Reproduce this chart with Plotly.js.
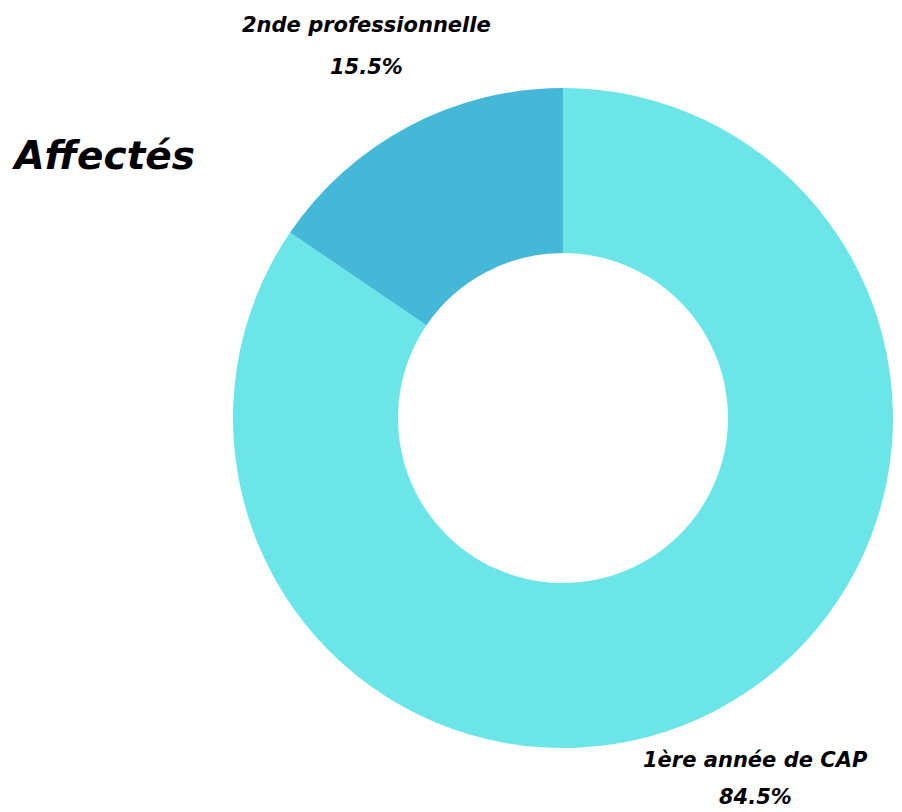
<!DOCTYPE html>
<html>
<head>
<meta charset="utf-8">
<script src="https://cdn.plot.ly/plotly-3.0.1.min.js"></script>
<style>html,body{margin:0;padding:0;background:#fff;}#chart{width:902px;height:812px;}</style>
</head>
<body>
<div id="chart"></div>
<script>
const labels = ["1ère année de CAP", "2nde professionnelle"];
const values = [84.5, 15.5];
const colors = ["#6BE5E8", "#44B8D6"];
const chartTitle = "Affectés";

// label placement (layout only), in pixels of the 902x812 canvas
const W = 902, H = 812;
const labelPos = [{x: 755, y1: 760, y2: 797}, {x: 366, y1: 25, y2: 67}];
const labelFont = {family: "DejaVu Sans, sans-serif", size: 21, color: "#000", weight: "bold", style: "italic"};

const total = values.reduce((a, b) => a + b, 0);
const annotations = [];
labels.forEach((lab, i) => {
  const p = labelPos[i];
  annotations.push({text: lab, x: p.x / W, y: 1 - p.y1 / H, xref: "paper", yref: "paper",
    xanchor: "center", yanchor: "middle", showarrow: false, font: labelFont});
  annotations.push({text: (values[i] / total * 100).toFixed(1) + "%", x: p.x / W, y: 1 - p.y2 / H,
    xref: "paper", yref: "paper", xanchor: "center", yanchor: "middle", showarrow: false, font: labelFont});
});

const trace = {
  type: "pie",
  labels: labels,
  values: values,
  hole: 0.5,
  sort: false,
  direction: "clockwise",
  rotation: 0,
  marker: {colors: colors, line: {width: 0}},
  textinfo: "none",
  hoverinfo: "label+percent",
  automargin: false,
  showlegend: false,
  domain: {x: [0.2583, 0.990], y: [0.0788, 0.8916]}
};

const layout = {
  width: W, height: H,
  margin: {l: 0, r: 0, t: 0, b: 0},
  paper_bgcolor: "#fff",
  annotations: annotations,
  title: {
    text: chartTitle,
    x: 0.016, xanchor: "left",
    y: 1 - 155 / H, yanchor: "middle",
    font: {family: "DejaVu Sans, sans-serif", size: 39, color: "#000", weight: "bold", style: "italic"}
  }
};

Plotly.newPlot("chart", [trace], layout, {displayModeBar: false});
</script>
</body>
</html>
